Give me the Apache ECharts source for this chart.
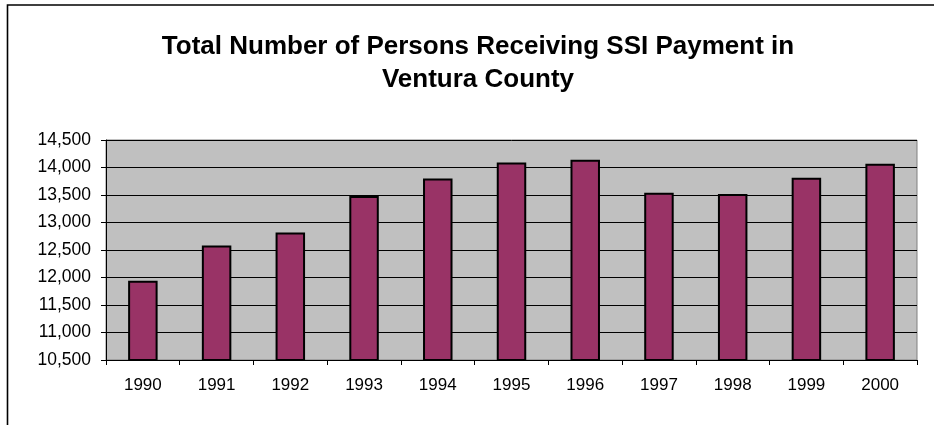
<!DOCTYPE html>
<html>
<head>
<meta charset="utf-8">
<script src="https://cdn.jsdelivr.net/npm/echarts@6/dist/echarts.min.js"></script>
<style>
  html, body { margin: 0; padding: 0; background: #fff; }
  #chart { width: 934px; height: 425px; }
</style>
</head>
<body>
<div id="chart"></div>
<script>
// SSI recipients, Ventura County
var years = ['1990', '1991', '1992', '1993', '1994', '1995', '1996', '1997', '1998', '1999', '2000'];
var persons = [11940, 12580, 12820, 13480, 13800, 14090, 14140, 13540, 13520, 13815, 14070];
var titleText = 'Total Number of Persons Receiving SSI Payment in\nVentura County';

var chart = echarts.init(document.getElementById('chart'));
chart.setOption({
  backgroundColor: '#fff',
  animation: false,
  title: {
    text: titleText,
    left: 478,
    top: 30,
    padding: 0,
    textAlign: 'center',
    textStyle: {
      fontFamily: 'Liberation Sans, Arial, sans-serif',
      fontWeight: 'bold',
      fontSize: 26,
      lineHeight: 33,
      color: '#000'
    }
  },
  graphic: [
    {
      type: 'rect',
      shape: { x: 7.5, y: 5, width: 1000, height: 1000 },
      style: { fill: 'none', stroke: '#000', lineWidth: 1.6 },
      silent: true
    }
  ],
  grid: {
    left: 106,
    right: 17,
    top: 140,
    bottom: 65,
    show: true,
    backgroundColor: '#c0c0c0',
    borderColor: '#808080',
    borderWidth: 1
  },
  xAxis: {
    type: 'category',
    data: years,
    axisLine: { lineStyle: { color: '#000', width: 1 } },
    axisTick: { show: true, length: 5, lineStyle: { color: '#000' } },
    axisLabel: {
      margin: 17,
      fontFamily: 'Liberation Sans, Arial, sans-serif',
      fontSize: 17,
      color: '#000'
    }
  },
  yAxis: {
    type: 'value',
    min: 10500,
    max: 14500,
    interval: 500,
    axisLine: { show: true, lineStyle: { color: '#000', width: 1 } },
    axisTick: { show: true, length: 5, lineStyle: { color: '#000' } },
    splitLine: { show: true, lineStyle: { color: '#000', width: 1 } },
    axisLabel: {
      margin: 15,
      fontFamily: 'Liberation Sans, Arial, sans-serif',
      fontSize: 17.5,
      color: '#000',
      formatter: function (v) { return v.toLocaleString('en-US'); }
    }
  },
  series: [
    {
      type: 'bar',
      data: persons,
      barCategoryGap: '60%',
      itemStyle: {
        color: '#993366',
        borderColor: '#000',
        borderWidth: 2
      }
    }
  ]
});
</script>
</body>
</html>
